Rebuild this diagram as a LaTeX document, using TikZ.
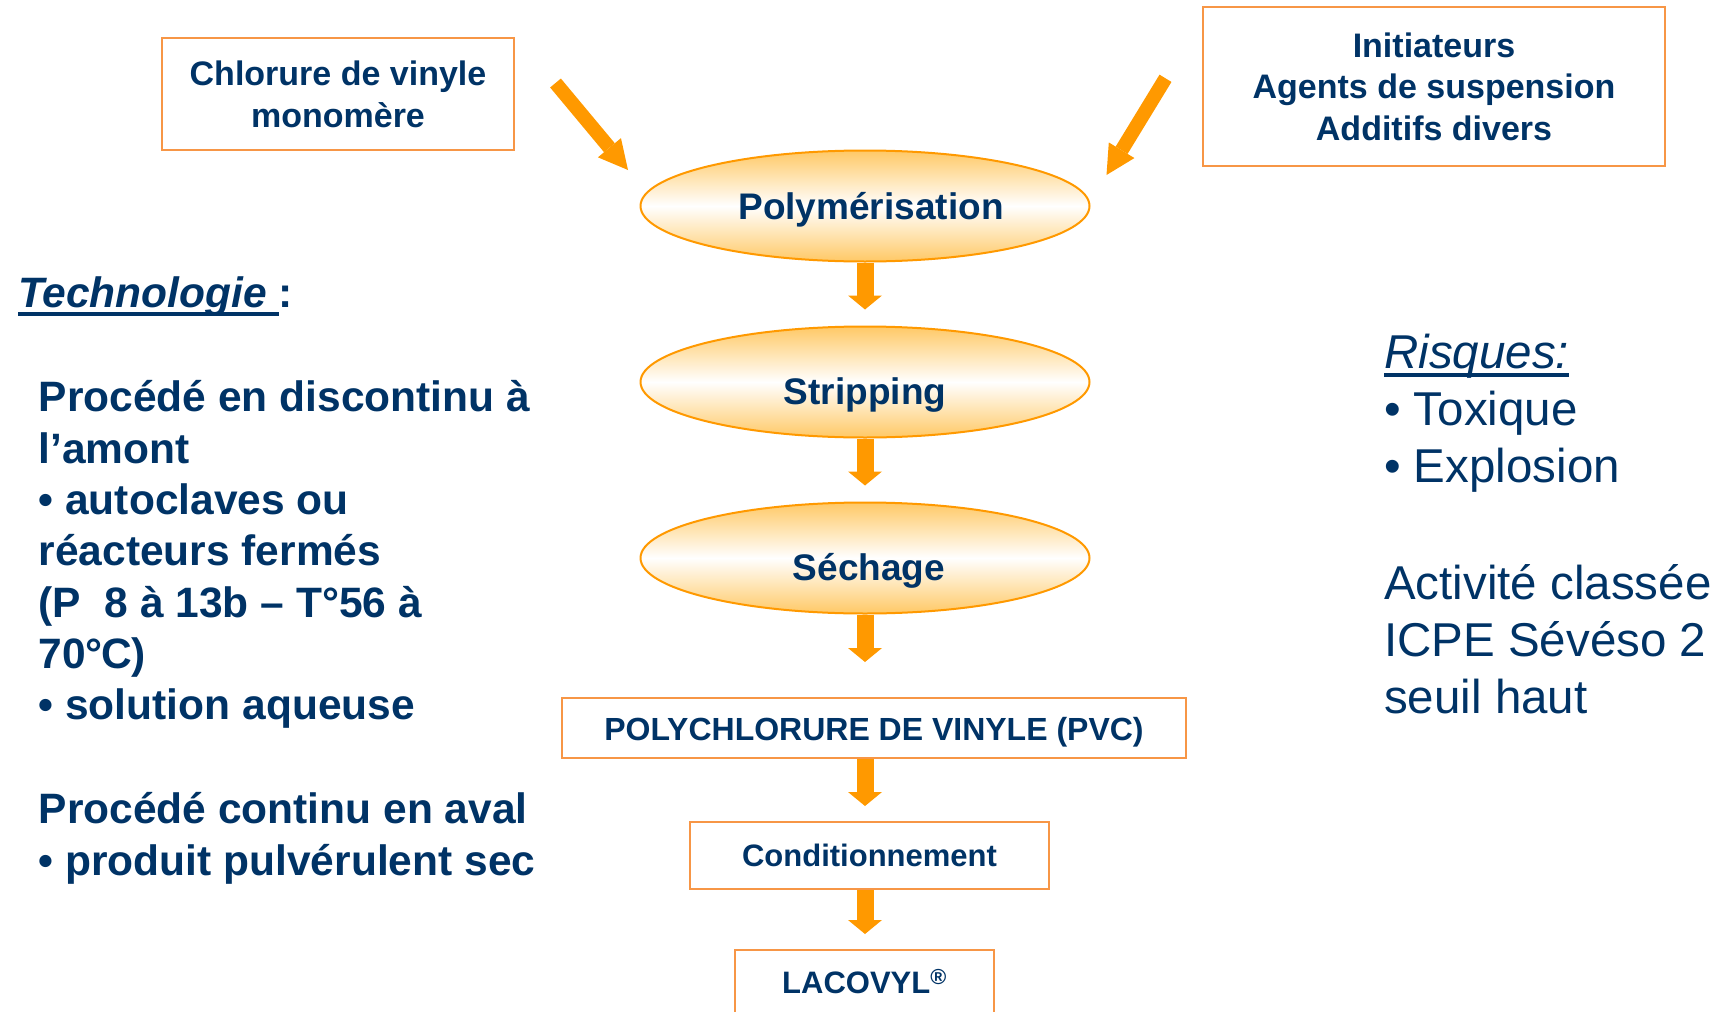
\documentclass[tikz,border=0pt]{standalone}
\usepackage{fontspec}
\setmainfont{Liberation Sans}
\usetikzlibrary{arrows.meta,shapes.geometric,positioning}

\definecolor{navy}{HTML}{003366}
\definecolor{arrowc}{HTML}{FF9900}
\definecolor{framec}{HTML}{F79646}
\definecolor{ellfill}{HTML}{FFC966}

\newcommand\undl[1]{\setbox0\hbox{#1}\rlap{\rule[-9pt]{\wd0}{4pt}}\box0}

\begin{document}
\begin{tikzpicture}[x=1pt,y=-1pt,
    box/.style={draw=framec,line width=2pt,fill=white,text=navy,align=center,inner sep=0pt},
    stage/.style={ellipse,draw=arrowc,line width=2pt,top color=ellfill,bottom color=ellfill,middle color=white,
      text=navy,minimum width=449pt,minimum height=111pt,inner sep=0pt,font=\fontsize{37}{44}\selectfont\bfseries},
    down/.style={draw=arrowc,line width=17pt,-{Triangle[width=34pt,length=14pt,line width=0pt]}},
    feed/.style={draw=arrowc,line width=14pt,-{Triangle[width=30pt,length=29pt,line width=0pt]}},
    txt/.style={text=navy,inner sep=0pt,align=left,anchor=base west}]
	\useasboundingbox (0,0) rectangle (1725,1012);
	% inputs
	\node[box,minimum width=352pt,minimum height=112pt,font=\fontsize{34}{42}\selectfont\bfseries] (vcm) at (338,94) {Chlorure de vinyle\\ monomère};
	\node[box,minimum width=462pt,minimum height=159pt,font=\fontsize{34}{41.5}\selectfont\bfseries] (adds) at (1434,86.5) {Initiateurs\\ Agents de suspension\\ Additifs divers};
	% process
	\node[stage,text height=26.6pt,text depth=0pt] (poly) at (865,206) {\hspace*{12pt}Polymérisation};
	\node[stage,text height=44.6pt,text depth=0pt] (strip) at (865,382) {Stripping};
	\node[stage,text height=44.6pt,text depth=0pt] (sech) at (865,558) {\hspace*{8pt}Séchage};
	\node[box,minimum width=624pt,minimum height=60pt,text height=25pt,text depth=0pt,font=\fontsize{32}{38}\selectfont\bfseries] (pvc) at (874,728) {POLYCHLORURE DE VINYLE (PVC)};
	\node[box,minimum width=359pt,minimum height=67pt,font=\fontsize{31}{37}\selectfont\bfseries] (cond) at (869.5,855.5) {Conditionnement};
	\node[box,minimum width=259pt,minimum height=64pt,font=\fontsize{31}{37}\selectfont\bfseries] (lac) at (864.5,982) {LACOVYL\textsuperscript{®}};
	% arrows
	\coordinate (vcmtail) at (555.5,83);
	\coordinate (vcmtip) at (628,170);
	\coordinate (addtail) at (1165.5,78.3);
	\coordinate (addtip) at (1106.5,175);
	\draw[feed] (vcmtail) -- (vcmtip);
	\draw[feed] (addtail) -- (addtip);
	\draw[down,shorten >=16pt] (poly) -- (strip);
	\draw[down,shorten >=16pt] (strip) -- (sech);
	\draw[down,shorten >=35pt] (sech) -- (sech |- pvc.north);
	\draw[down,shorten >=15pt] (sech |- pvc.south) -- (sech |- cond.north);
	\draw[down,shorten >=15pt] (sech |- cond.south) -- (sech |- lac.north);
	% left text
	\node[txt,font=\fontsize{42.5}{51}\selectfont\bfseries] (techtitle) at (18,307) {\undl{\itshape Technologie }:};
	\node[txt,font=\fontsize{42.5}{51.3}\selectfont\bfseries] (techbody) at (38.5,875) {Procédé en discontinu à\\ l’amont\\ • autoclaves ou\\ réacteurs fermés\\ (P~~8 à 13b – T°56 à\\ 70°\kern-.04em C)\\ • solution aqueuse\\[52.7pt] Procédé continu en aval\\ • produit pulvérulent sec};
	% right text
	\node[txt,font=\fontsize{47.5}{57}\selectfont] (risks) at (1384,713) {\undl{\itshape Risques:}\\ • Toxique\\ • Explosion\\[60pt] Activité classée\\ ICPE Sévéso 2\\ seuil haut};
\end{tikzpicture}
\end{document}
